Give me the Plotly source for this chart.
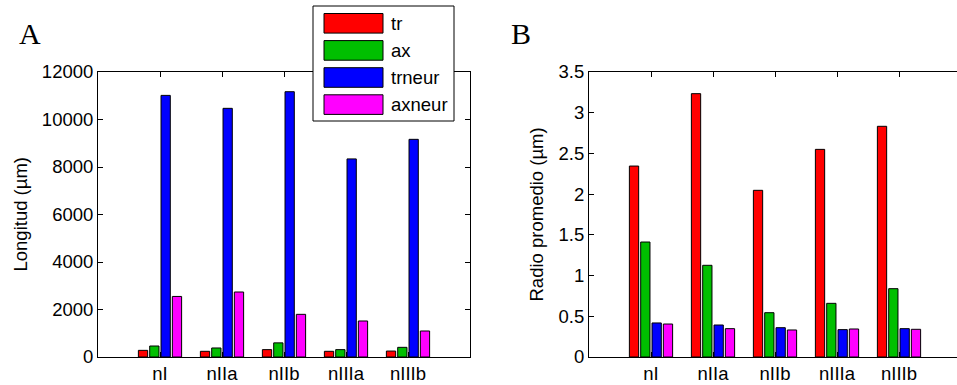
import plotly.graph_objects as go

W, H = 957, 385

categories = ["nI", "nIIa", "nIIb", "nIIIa", "nIIIb"]
series_names = ["tr", "ax", "trneur", "axneur"]
series_colors = ["#FF0000", "#00BF00", "#0000FF", "#FF00FF"]

longitud_tr = [280, 240, 310, 240, 250]
longitud_ax = [463, 380, 595, 310, 407]
longitud_trneur = [11015, 10470, 11170, 8340, 9165]
longitud_axneur = [2550, 2737, 1796, 1516, 1095]

radio_tr = [2.345, 3.234, 2.047, 2.550, 2.833]
radio_ax = [1.412, 1.126, 0.544, 0.659, 0.839]
radio_trneur = [0.418, 0.393, 0.360, 0.336, 0.348]
radio_axneur = [0.405, 0.348, 0.332, 0.344, 0.340]

long_series = [longitud_tr, longitud_ax, longitud_trneur, longitud_axneur]
radio_series = [radio_tr, radio_ax, radio_trneur, radio_axneur]

def px(x):
    return x / W

def py(y):
    return 1 - y / H

FONT = "Liberation Sans, Arial, sans-serif"
SERIF = "Liberation Serif, Times New Roman, serif"

fig = go.Figure()
for name, color, vals in zip(series_names, series_colors, long_series):
    fig.add_trace(go.Bar(x=categories, y=vals, name=name,
                         marker=dict(color=color, line=dict(color="black", width=1)),
                         xaxis="x", yaxis="y", showlegend=False))
for name, color, vals in zip(series_names, series_colors, radio_series):
    fig.add_trace(go.Bar(x=categories, y=vals, name=name,
                         marker=dict(color=color, line=dict(color="black", width=1)),
                         xaxis="x2", yaxis="y2", showlegend=False))

unit = 62.0
a_left, a_right = 98, 470
b_left = 589
y_top, y_bot = 72, 357

axis_common = dict(showline=True, linecolor="black", linewidth=1, ticks="inside", ticklen=5, tickwidth=1,
                   tickcolor="black", showgrid=False, zeroline=False, automargin=False,
                   tickfont=dict(family=FONT, size=18.5, color="black"))

fig.update_layout(
    width=W, height=H, margin=dict(l=0, r=0, t=0, b=0, pad=0), autosize=False,
    paper_bgcolor="white", plot_bgcolor="white",
    barmode="group", bargap=0.27, bargroupgap=0.18,
    xaxis=dict(domain=[px(a_left), px(a_right)], range=[-1, 5], anchor="y", mirror="ticks", **axis_common),
    yaxis=dict(domain=[py(y_bot), py(y_top)], range=[0, 12000], dtick=2000, tickformat="d", anchor="x",
               mirror="ticks", **axis_common),
    xaxis2=dict(domain=[px(b_left), 1.0], range=[-1, -1 + (W - b_left) / unit], anchor="y2", mirror="ticks",
                **axis_common),
    yaxis2=dict(domain=[py(y_bot), py(y_top)], range=[0, 3.5], dtick=0.5, anchor="x2", mirror=False,
                **axis_common),
)

def note(text, x, y, size, family, angle=0, xanchor="center"):
    return dict(text=text, x=px(x), y=py(y), xref="paper", yref="paper", showarrow=False,
                xanchor=xanchor, yanchor="middle", textangle=angle,
                font=dict(family=family, size=size, color="black"))

annotations = [
    note("A", 30, 33, 30, SERIF),
    note("B", 521, 33, 30, SERIF),
    note("Longitud (µm)", 20, (y_top + y_bot) / 2, 18.5, FONT, angle=-90),
    note("Radio promedio (µm)", 536, (y_top + y_bot) / 2, 18.5, FONT, angle=-90),
]

shapes = [dict(type="rect", xref="paper", yref="paper", x0=px(313), x1=px(454), y0=py(121), y1=py(6),
               fillcolor="white", line=dict(color="black", width=1), layer="above")]
row0, row_step = 23.3, 27.1
for i, (name, color) in enumerate(zip(series_names, series_colors)):
    cy = row0 + i * row_step
    shapes.append(dict(type="rect", xref="paper", yref="paper", x0=px(324), x1=px(383),
                       y0=py(cy + 9.8), y1=py(cy - 9.8), fillcolor=color,
                       line=dict(color="black", width=1), layer="above"))
    annotations.append(note(name, 389, cy, 18.5, FONT, xanchor="left"))

fig.update_layout(shapes=shapes, annotations=annotations)
fig.write_html("out.html")
